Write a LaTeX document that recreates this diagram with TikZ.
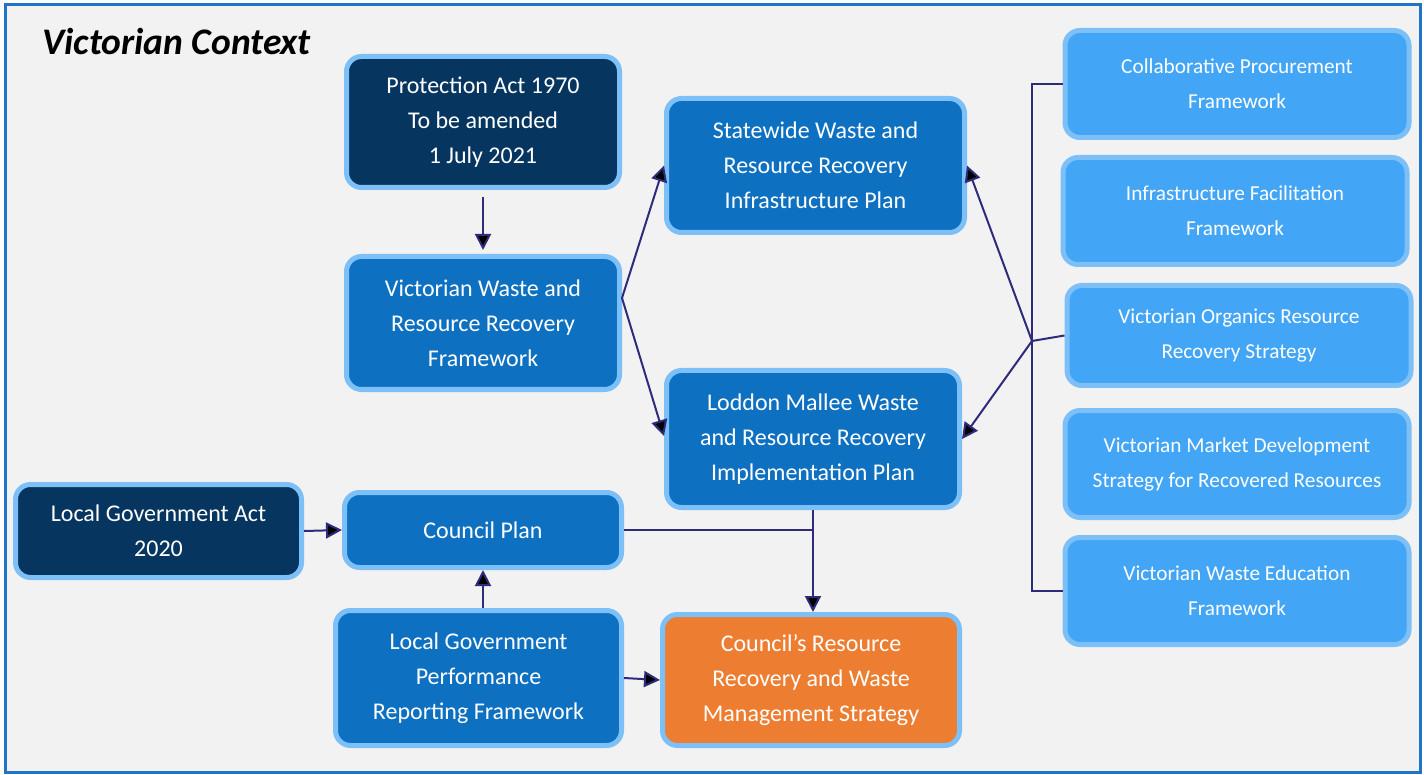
\documentclass[tikz,border=0pt]{standalone}
\usepackage{fontspec}
\setmainfont{Carlito}
\usetikzlibrary{arrows.meta,calc}
\definecolor{navy}{HTML}{063660}
\definecolor{midblue}{HTML}{0D70C1}
\definecolor{ltblue}{HTML}{42A5F5}
\definecolor{rim}{HTML}{7CC0F7}
\definecolor{orng}{HTML}{ED7D31}
\definecolor{bg}{HTML}{F2F2F2}
\definecolor{frame}{HTML}{1F74C8}
\definecolor{conn}{HTML}{2E2C7A}
\tikzset{
  box/.style={draw=rim, line width=5pt, rounded corners=15pt, text=white, align=center,
    font=\fontsize{24}{35}\selectfont, inner sep=0pt},
  navybox/.style={box, fill=navy},
  midbox/.style={box, fill=midblue},
  orbox/.style={box, fill=orng},
  sidebox/.style={box, fill=ltblue, font=\fontsize{21.3}{35}\selectfont,
    minimum width=344pt, minimum height=107pt},
  conline/.style={draw=conn, line width=2pt},
  arr/.style={conline, -{Triangle[length=16pt,width=16pt,fill=black]}}
}
\begin{document}
\begin{tikzpicture}[x=1pt,y=-1pt]
\useasboundingbox (0,0) rectangle (1424,775);
\fill[white] (0,0) rectangle (1424,775);
\draw[fill=bg, draw=frame, line width=3pt] (5,5) rectangle (1420,772);
\node[anchor=west, inner sep=0pt, font=\fontsize{37.5}{42}\selectfont\bfseries\itshape] (title) at (42,41) {Victorian Context};

\node[navybox, minimum width=273pt, minimum height=131pt] (prot) at (483,122) {Protection Act 1970\\To be amended\\1 July 2021};
\node[midbox, minimum width=273pt, minimum height=133pt] (vwrrf) at (483,323) {Victorian Waste and\\Resource Recovery\\Framework};
\node[midbox, minimum width=298pt, minimum height=134pt] (state) at (815.5,165.5) {Statewide Waste and\\Resource Recovery\\Infrastructure Plan};
\node[midbox, minimum width=293pt, minimum height=137pt] (loddon) at (813,439) {Loddon Mallee Waste\\and Resource Recovery\\Implementation Plan};
\node[navybox, minimum width=286pt, minimum height=93pt] (lga) at (158.5,531) {Local Government Act\\2020};
\node[midbox, minimum width=277pt, minimum height=75pt] (cplan) at (483,530) {Council Plan};
\node[midbox, minimum width=286pt, minimum height=135pt] (lgprf) at (478.5,678) {Local Government\\Performance\\Reporting Framework};
\node[orbox, minimum width=297pt, minimum height=131pt] (strat) at (811,680) {Council’s Resource\\Recovery and Waste\\Management Strategy};

\node[sidebox] (collab) at (1237,84) {Collaborative Procurement\\Framework};
\node[sidebox] (infra) at (1235,211) {Infrastructure Facilitation\\Framework};
\node[sidebox, minimum height=100pt] (org) at (1239,335.5) {Victorian Organics Resource\\Recovery Strategy};
\node[sidebox] (market) at (1237,464) {Victorian Market Development\\Strategy for Recovered Resources};
\node[sidebox] (edu) at (1237,591) {Victorian Waste Education\\Framework};

\coordinate (hub) at (1032,341);
\draw[conline] (collab.west) -- (collab.west -| hub) -- (edu.west -| hub) -- (edu.west);
\draw[conline] (hub) -- (org.west);
\draw[arr] (hub) -- (state.east);
\draw[arr] (hub) -- (loddon.east);

\draw[arr] ($(prot.south)+(0,7)$) -- ($(vwrrf.north)+(0,-4)$);
\draw[arr] ($(vwrrf.east)+(0,-25)$) -- (state.west);
\draw[arr] ($(vwrrf.east)+(0,-25)$) -- ($(loddon.west)+(0,-3)$);
\draw[arr] (lga.east) -- (cplan.west);
\draw[arr] (cplan.south |- lgprf.north) -- (cplan.south);
\draw[conline] (cplan.east) -- (cplan.east -| loddon.south);
\draw[arr] (loddon.south) -- (loddon.south |- strat.north);
\draw[arr] (lgprf.east) -- (strat.west);
\end{tikzpicture}
\end{document}
